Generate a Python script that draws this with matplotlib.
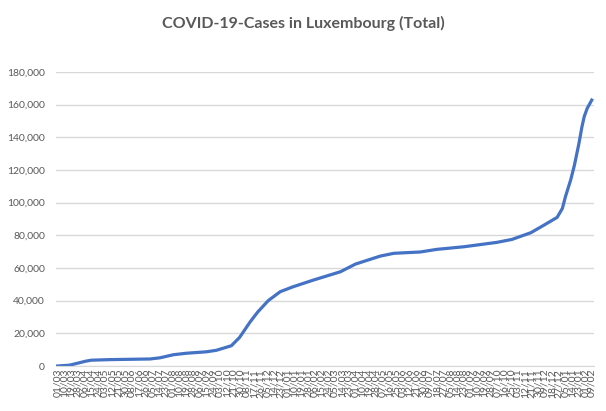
import matplotlib
matplotlib.use("Agg")
import matplotlib.pyplot as plt
import matplotlib.dates as mdates
import pandas as pd

# readings (total confirmed cases)
dates = [
    "2020-03-01", "2020-03-17", "2020-04-08", "2020-04-15", "2020-05-09",
    "2020-07-02", "2020-07-15", "2020-08-02", "2020-08-19", "2020-09-15",
    "2020-09-28", "2020-10-18", "2020-10-29", "2020-11-12", "2020-11-22",
    "2020-12-06", "2020-12-22", "2021-01-08", "2021-02-04", "2021-03-12",
    "2021-04-01", "2021-05-04", "2021-05-22", "2021-06-26", "2021-07-18",
    "2021-08-23", "2021-10-06", "2021-10-26", "2021-11-20", "2021-12-07",
    "2021-12-25", "2022-01-01", "2022-01-05", "2022-01-12", "2022-01-17",
    "2022-01-23", "2022-01-27", "2022-01-30", "2022-02-03", "2022-02-09",
]
cases = [
    0, 500, 3000, 3550, 3900,
    4300, 5000, 6900, 7800, 8700,
    9600, 12400, 17500, 27000, 33000,
    40000, 45500, 48500, 52600, 57700,
    62400, 67300, 69000, 69800, 71400,
    73000, 75700, 77500, 81600, 86100,
    91000, 96500, 103600, 113900, 123000,
    136300, 146500, 152700, 157800, 162800,
]
title = "COVID-19-Cases in Luxembourg (Total)"

x = pd.to_datetime(dates)
start = pd.Timestamp("2020-03-01")
end = pd.Timestamp("2022-02-09")
tick_dates = list(pd.date_range(start, end, freq="9D"))
if tick_dates[-1] != end:
    tick_dates.append(end)

plt.rcParams["font.family"] = ["Lato", "DejaVu Sans"]
grey = "#595959"
fig = plt.figure(figsize=(6.06, 4.11), dpi=100)
ax = fig.add_axes([56 / 606, 45 / 411, 538 / 606, 294 / 411])

ax.plot(x, cases, color="#4472C4", linewidth=2.3, solid_joinstyle="round")

ax.set_ylim(0, 180000)
ax.set_yticks(range(0, 180001, 20000))
ax.set_yticklabels([f"{v:,}" for v in range(0, 180001, 20000)])
ax.set_xlim(start - pd.Timedelta(days=2), end + pd.Timedelta(days=3))
ax.set_xticks(tick_dates)
ax.xaxis.set_major_formatter(mdates.DateFormatter("%d/%m"))

ax.grid(axis="y", color="#d9d9d9", linewidth=1)
ax.set_axisbelow(True)
for s in ["top", "right", "left"]:
    ax.spines[s].set_visible(False)
ax.spines["bottom"].set_color("#d9d9d9")
ax.tick_params(axis="both", length=0, colors=grey)
ax.tick_params(axis="y", labelsize=7.5, pad=8)
ax.tick_params(axis="x", labelsize=7.5, rotation=90, pad=2)

fig.text(0.5, 1 - 23 / 411, title, ha="center", va="center",
         fontsize=11.5, fontweight="bold", color=grey)

fig.savefig("out.png", dpi=100)
